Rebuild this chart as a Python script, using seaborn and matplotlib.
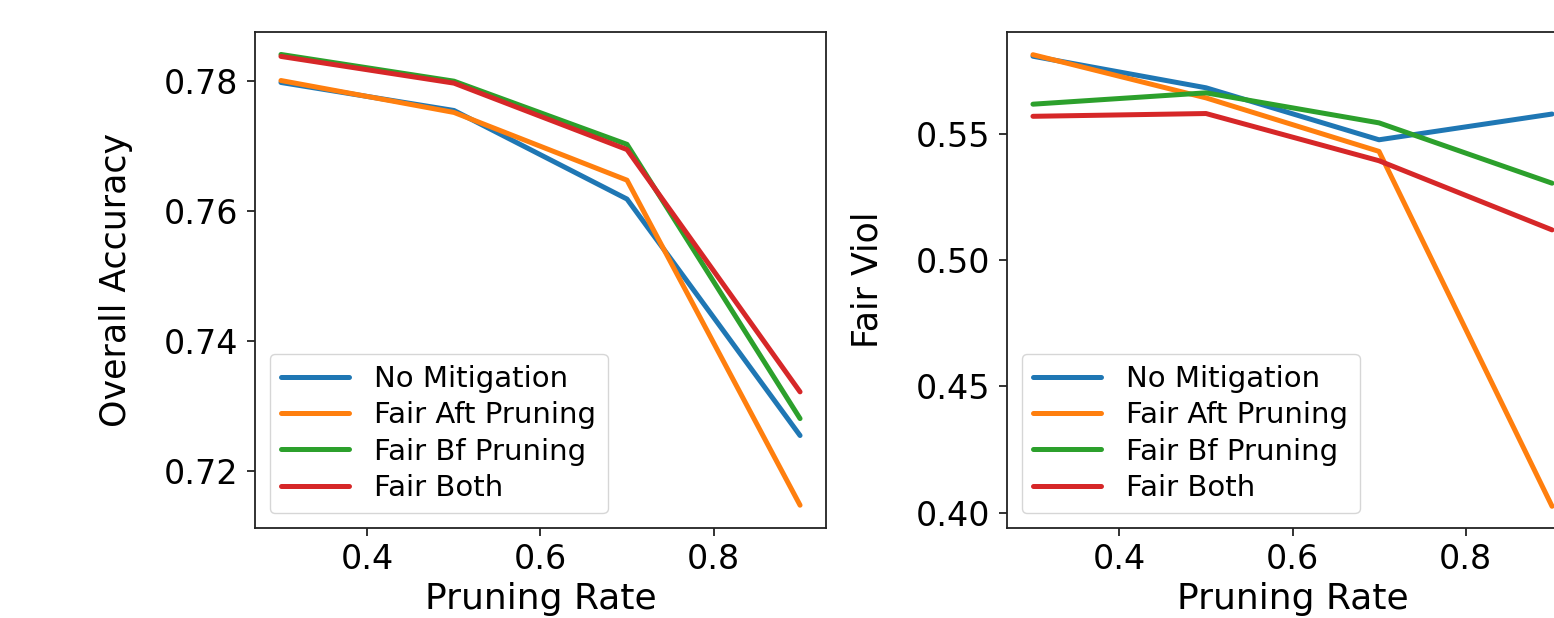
import matplotlib
matplotlib.use("Agg")
import matplotlib.pyplot as plt
import seaborn as sns
import pandas as pd

rates = [0.3, 0.5, 0.7, 0.9]
methods = ["No Mitigation", "Fair Aft Pruning", "Fair Bf Pruning", "Fair Both"]

acc_no = [0.7797, 0.7754, 0.7618, 0.7255]
acc_aft = [0.7800, 0.7751, 0.7647, 0.7148]
acc_bf = [0.7840, 0.7799, 0.7702, 0.7281]
acc_both = [0.7837, 0.7796, 0.7694, 0.7322]

viol_no = [0.5808, 0.5683, 0.5477, 0.5579]
viol_aft = [0.5814, 0.5643, 0.5431, 0.4025]
viol_bf = [0.5618, 0.5663, 0.5544, 0.5305]
viol_both = [0.5570, 0.5581, 0.5394, 0.5120]

acc_series = [acc_no, acc_aft, acc_bf, acc_both]
viol_series = [viol_no, viol_aft, viol_bf, viol_both]

rows = []
for m, a, v in zip(methods, acc_series, viol_series):
    for r, av, vv in zip(rates, a, v):
        rows.append({"Pruning Rate": r, "Method": m, "acc": av, "viol": vv})
df = pd.DataFrame(rows)

sns.set_theme(style="ticks")
plt.rcParams["font.family"] = ["DejaVu Sans"]
plt.rcParams["axes.edgecolor"] = "#222222"
plt.rcParams["axes.linewidth"] = 1.3
plt.rcParams["text.color"] = "black"
plt.rcParams["axes.labelcolor"] = "black"
plt.rcParams["xtick.color"] = "black"
plt.rcParams["ytick.color"] = "black"

palette = ["#1f77b4", "#ff7f0e", "#2ca02c", "#d62728"]

fig = plt.figure(figsize=(15.54, 6.18), dpi=100)
ax1 = fig.add_axes([255 / 1554, 90 / 618, 571 / 1554, 496 / 618])
ax2 = fig.add_axes([1007 / 1554, 90 / 618, 571 / 1554, 496 / 618])

for ax, col, ylabel, yticks, ylx in [
    (ax1, "acc", "Overall Accuracy", [0.72, 0.74, 0.76, 0.78], -0.214),
    (ax2, "viol", "Fair Viol", [0.40, 0.45, 0.50, 0.55], -0.215),
]:
    sns.lineplot(data=df, x="Pruning Rate", y=col, hue="Method",
                 hue_order=methods, palette=palette, linewidth=3.6,
                 sort=False, ax=ax)
    ax.set_xlim(0.27, 0.93)
    ax.set_xticks([0.4, 0.6, 0.8])
    ax.set_xticklabels(["0.4", "0.6", "0.8"])
    ax.set_yticks(yticks)
    ax.set_yticklabels([f"{t:.2f}" for t in yticks])
    ax.tick_params(axis="both", labelsize=24, length=6, width=1.3, pad=6,
                   color="#222222", labelcolor="black")
    ax.tick_params(axis="x", pad=5)
    ax.set_xlabel("Pruning Rate", fontsize=26)
    ax.set_ylabel(ylabel, fontsize=25)
    ax.xaxis.set_label_coords(0.5, -0.108)
    ax.yaxis.set_label_coords(ylx, 0.5)
    for s in ax.spines.values():
        s.set_visible(True)
    leg = ax.legend(loc="lower left", fontsize=21, labelspacing=0.28,
                    handlelength=2.33, handletextpad=0.86, borderpad=0.4,
                    borderaxespad=0.5,
                    frameon=True, fancybox=True, framealpha=0.8,
                    edgecolor="#cccccc", title=None)
    for line in leg.get_lines():
        line.set_linewidth(3.6)
    for t in leg.get_texts():
        t.set_color("black")

ax1.set_ylim(0.7113, 0.78745)
ax2.set_ylim(0.3939, 0.5904)

fig.savefig("out.png", dpi=100)
